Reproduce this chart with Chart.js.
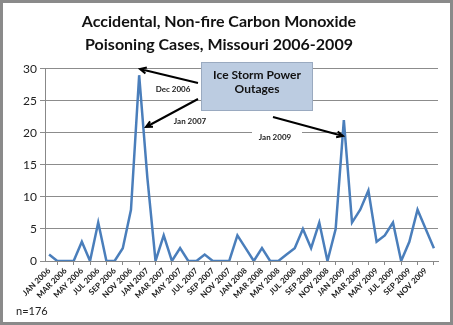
<!DOCTYPE html>
<html>
<head>
<meta charset="utf-8">
<script src="https://cdn.jsdelivr.net/npm/chart.js@4/dist/chart.umd.min.js"></script>
<style>
  html, body { margin: 0; padding: 0; background: #fff; }
  #wrap { width: 453px; height: 325px; position: relative; }
</style>
</head>
<body>
<div id="wrap"><canvas id="coChart" width="453" height="325"></canvas></div>
<script>
const months = ['JAN', 'FEB', 'MAR', 'APR', 'MAY', 'JUN', 'JUL', 'AUG', 'SEP', 'OCT', 'NOV', 'DEC'];
const years = [2006, 2007, 2008, 2009];
const monthLabels = years.flatMap(y => months.map(m => m + ' ' + y));

// monthly case counts (total 176)
const cases2006 = [1, 0, 0, 0, 3, 0, 6, 0, 0, 2, 8, 29];
const cases2007 = [13, 0, 4, 0, 2, 0, 0, 1, 0, 0, 0, 4];
const cases2008 = [2, 0, 2, 0, 0, 1, 2, 5, 2, 6, 0, 5];
const cases2009 = [22, 6, 8, 11, 3, 4, 6, 0, 3, 8, 5, 2];
const cases = [...cases2006, ...cases2007, ...cases2008, ...cases2009];

const yTicks = [0, 5, 10, 15, 20, 25, 30];
const titleLines = ['Accidental, Non-fire Carbon Monoxide', 'Poisoning Cases, Missouri 2006-2009'];
const noteText = 'n=176';

const FONT = 'Lato, "Open Sans", sans-serif';

function arrow(ctx, x1, y1, x2, y2) {
  const a = Math.atan2(y2 - y1, x2 - x1);
  const h = 7;
  ctx.beginPath();
  ctx.moveTo(x1, y1);
  ctx.lineTo(x2, y2);
  ctx.moveTo(x2 - h * Math.cos(a - 0.45), y2 - h * Math.sin(a - 0.45));
  ctx.lineTo(x2, y2);
  ctx.lineTo(x2 - h * Math.cos(a + 0.45), y2 - h * Math.sin(a + 0.45));
  ctx.stroke();
}

// frame, annotations and the n= note
const extras = {
  id: 'extras',
  beforeDraw(chart) {
    const ctx = chart.ctx;
    ctx.save();
    ctx.fillStyle = '#fff';
    ctx.fillRect(0, 0, chart.width, chart.height);
    ctx.restore();
  },
  afterDraw(chart) {
    const ctx = chart.ctx;
    ctx.save();
    // outer frame
    ctx.strokeStyle = '#8a8a8a';
    ctx.lineWidth = 3;
    ctx.strokeRect(1.5, 1.5, chart.width - 3, chart.height - 3);

    // label backgrounds
    ctx.fillStyle = '#fff';
    ctx.fillRect(252, 127, 50, 20);

    // callout box
    ctx.fillStyle = '#bccce1';
    ctx.strokeStyle = '#9aaac0';
    ctx.lineWidth = 1;
    ctx.fillRect(201, 62, 112, 49);
    ctx.strokeRect(201.5, 62.5, 111, 48);
    ctx.fillStyle = '#111';
    ctx.font = 'bold 12px ' + FONT;
    ctx.textAlign = 'center';
    ctx.textBaseline = 'middle';
    ctx.fillText('Ice Storm Power', 257, 75);
    ctx.fillText('Outages', 257, 89);

    // arrows
    ctx.strokeStyle = '#000';
    ctx.lineWidth = 2;
    arrow(ctx, 198, 83, 140, 69);
    arrow(ctx, 198, 99, 146, 127);
    arrow(ctx, 273, 117, 343, 136);

    ctx.font = 'bold 8px ' + FONT;
    ctx.fillStyle = '#222';
    ctx.fillText('Dec 2006', 173, 89);
    ctx.fillText('Jan 2007', 190, 121);
    ctx.fillText('Jan 2009', 275, 137);

    ctx.font = '11px ' + FONT;
    ctx.textAlign = 'left';
    ctx.fillStyle = '#222';
    ctx.fillText(noteText, 16, 311);
    ctx.restore();
  }
};

new Chart(document.getElementById('coChart'), {
  type: 'line',
  data: {
    labels: monthLabels,
    datasets: [{
      data: cases,
      borderColor: '#4a7ebb',
      borderWidth: 2.5,
      pointRadius: 0,
      tension: 0,
      fill: false
    }]
  },
  options: {
    responsive: false,
    animation: false,
    layout: { padding: { left: 0, right: 15, top: 0, bottom: 0 } },
    plugins: {
      legend: { display: false },
      tooltip: { enabled: false },
      title: {
        display: true,
        text: titleLines,
        color: '#111',
        font: { family: FONT, size: 16, weight: 'bold', lineHeight: 1.4 },
        padding: { top: 11, bottom: 13 }
      }
    },
    scales: {
      x: {
        offset: true,
        grid: { display: true, drawOnChartArea: false, drawTicks: true, tickLength: 4, offset: true, color: '#888' },
        border: { color: '#888', width: 1 },
        ticks: {
          autoSkip: false,
          maxRotation: 45,
          minRotation: 45,
          padding: 1,
          color: '#222',
          font: { family: FONT, size: 8, weight: 'bold' },
          callback: (v, i) => (i % 2 === 0 ? monthLabels[i] : null)
        },
        afterFit: s => { s.height = 64; }
      },
      y: {
        min: 0,
        max: 30,
        afterBuildTicks: s => { s.ticks = yTicks.map(v => ({ value: v })); },
        grid: { color: '#8c8c8c', lineWidth: 1, tickLength: 5, drawTicks: true },
        border: { color: '#888', width: 1 },
        ticks: {
          color: '#222',
          padding: 3,
          font: { family: FONT, size: 12 }
        },
        afterFit: s => { s.width = 45; }
      }
    }
  },
  plugins: [extras]
});
</script>
</body>
</html>
